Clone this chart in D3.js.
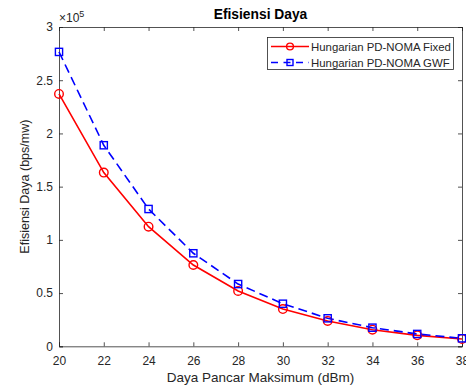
<!DOCTYPE html>
<html><head><meta charset="utf-8">
<script src="https://cdn.jsdelivr.net/npm/d3@7"></script>
<style>body{margin:0;background:#fff}svg{display:block}text{font-family:"Liberation Sans",Arial,sans-serif}</style>
</head><body><svg id="c" width="466" height="385"></svg>
<script>
const xValues = [20,22,24,26,28,30,32,34,36,38];
const fixedValues = [2.371,1.632,1.124,0.764,0.52,0.35,0.238,0.156,0.103,0.069];
const gwfValues = [2.766,1.889,1.29,0.874,0.585,0.40,0.263,0.175,0.116,0.075];
const xTicks = [20,22,24,26,28,30,32,34,36,38];
const yTicks = [0,0.5,1,1.5,2,2.5,3];
const seriesNames = ["Hungarian PD-NOMA Fixed","Hungarian PD-NOMA GWF"];

const svg = d3.select("#c");
const L=59,R=462,T=27,B=346.3;
const x = d3.scaleLinear().domain([20,38]).range([L,R]);
const y = d3.scaleLinear().domain([0,3]).range([B,T]);
const axCol="#262626";

svg.append("rect").attr("x",L).attr("y",T).attr("width",R-L).attr("height",B-T).attr("fill","#fff");

const gx = svg.append("g").attr("transform",`translate(0,${B})`)
  .call(d3.axisBottom(x).tickValues(xTicks).tickSize(-4).tickPadding(10).tickFormat(d3.format("d")));
const gxt = svg.append("g").attr("transform",`translate(0,${T})`)
  .call(d3.axisTop(x).tickValues(xTicks).tickSize(-4).tickFormat(""));
const gy = svg.append("g").attr("transform",`translate(${L},0)`)
  .call(d3.axisLeft(y).tickValues(yTicks).tickSize(-4).tickPadding(6).tickFormat(d=>d3.format("")(d)));
const gyr = svg.append("g").attr("transform",`translate(${R},0)`)
  .call(d3.axisRight(y).tickValues(yTicks).tickSize(-4).tickFormat(""));
[gx,gxt,gy,gyr].forEach(g=>{
  g.select(".domain").attr("stroke",axCol).attr("stroke-width",0.8);
  g.selectAll(".tick line").attr("stroke",axCol).attr("stroke-width",0.8);
  g.selectAll(".tick text").attr("fill",axCol).attr("font-size",12).attr("font-family","Liberation Sans, Arial, sans-serif");
});

const mt = svg.append("text").attr("x",L).attr("y",22).attr("fill",axCol).attr("font-size",12);
mt.append("tspan").text("×10");
mt.append("tspan").attr("dy",-5).attr("font-size",9).text("5");

svg.append("text").attr("x",(L+R)/2).attr("y",19).attr("text-anchor","middle")
  .attr("font-size",13.8).attr("font-weight","bold").attr("fill","#000").text("Efisiensi Daya");
svg.append("text").attr("x",(L+R)/2).attr("y",382).attr("text-anchor","middle")
  .attr("font-size",13.5).attr("fill",axCol).text("Daya Pancar Maksimum (dBm)");
svg.append("text").attr("transform",`translate(29,${(T+B)/2}) rotate(-90)`).attr("text-anchor","middle")
  .attr("font-size",12.5).attr("fill",axCol).text("Efisiensi Daya (bps/mw)");

const line = d3.line().x(d=>x(d[0])).y(d=>y(d[1]));
const fixed = xValues.map((v,i)=>[v,fixedValues[i]]);
const gwf = xValues.map((v,i)=>[v,gwfValues[i]]);
const red="#ff0000", blue="#0000ff";

svg.append("path").datum(fixed).attr("d",line).attr("fill","none").attr("stroke",red).attr("stroke-width",1.6);
svg.append("path").datum(gwf).attr("d",line).attr("fill","none").attr("stroke",blue).attr("stroke-width",1.6).attr("stroke-dasharray","9,5");
svg.selectAll("circle.f").data(fixed).enter().append("circle").attr("class","f")
  .attr("cx",d=>x(d[0])).attr("cy",d=>y(d[1])).attr("r",4.3).attr("fill","none").attr("stroke",red).attr("stroke-width",1.4);
svg.selectAll("rect.g").data(gwf).enter().append("rect").attr("class","g")
  .attr("x",d=>x(d[0])-3.6).attr("y",d=>y(d[1])-3.6).attr("width",7.2).attr("height",7.2)
  .attr("fill","none").attr("stroke",blue).attr("stroke-width",1.4);

const lg = svg.append("g");
lg.append("rect").attr("x",267.5).attr("y",37.5).attr("width",186).attr("height",32).attr("fill","#fff").attr("stroke",axCol).attr("stroke-width",0.8);
const ly=[46.5,62.5];
lg.append("line").attr("x1",271).attr("x2",309).attr("y1",ly[0]).attr("y2",ly[0]).attr("stroke",red).attr("stroke-width",1.6);
lg.append("circle").attr("cx",290).attr("cy",ly[0]).attr("r",3.4).attr("fill","none").attr("stroke",red).attr("stroke-width",1.4);
lg.append("line").attr("x1",271).attr("x2",309).attr("y1",ly[1]).attr("y2",ly[1]).attr("stroke",blue).attr("stroke-width",1.6).attr("stroke-dasharray","7,5.5");
lg.append("rect").attr("x",287).attr("y",ly[1]-3).attr("width",6).attr("height",6).attr("fill","none").attr("stroke",blue).attr("stroke-width",1.4);
seriesNames.forEach((n,i)=>{
  lg.append("text").attr("x",311).attr("y",ly[i]+4).attr("font-size",11.4).attr("fill",axCol).text(n);
});
</script></body></html>
